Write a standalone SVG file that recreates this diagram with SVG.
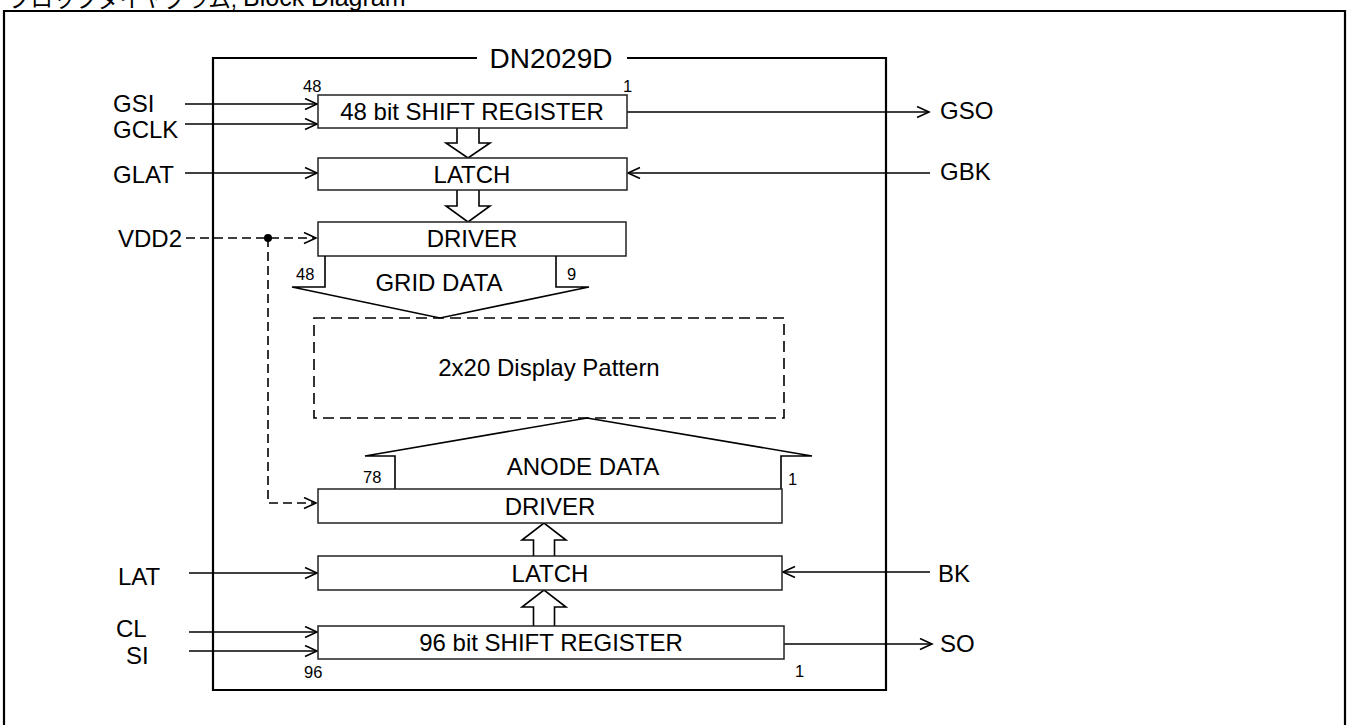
<svg xmlns="http://www.w3.org/2000/svg" width="1351" height="725" viewBox="0 0 1351 725">
<style>
.t{font-family:"Liberation Sans",Arial,"Noto Sans CJK JP",sans-serif;fill:#000}
.lbl{font-size:24px}
.num{font-size:16.5px}
.mid{text-anchor:middle}
.box{fill:#fff;stroke:#222;stroke-width:1.5}
.ln{fill:none;stroke:#000;stroke-width:1.6}
.dash{stroke-dasharray:9 5}
.frame{fill:none;stroke:#000;stroke-width:2.2}
.blk{fill:#fff;stroke:#000;stroke-width:1.6}
</style>
<defs>
<marker id="ah" markerUnits="userSpaceOnUse" viewBox="0 0 16 14" markerWidth="16" markerHeight="14" refX="13" refY="6" orient="auto">
<path d="M1,0.5 L13,6 L1,11.5" fill="none" stroke="#000" stroke-width="1.6"/>
</marker>
</defs>
<rect width="1351" height="725" fill="#fff"/>
<g id="title">
<text class="t" x="8" y="7" font-size="22.5px" font-family="'Noto Sans CJK JP',sans-serif">ブロックダイヤグラム,</text>
<text class="t" x="243" y="6" font-size="25px">Block Diagram</text>
</g>
<g id="outer-frame">
<path class="frame" d="M4,735 V11 H1345 V735" stroke-width="2.6"/>
</g>
<g id="chip">
<path class="frame" d="M477,58 H213 V690 H886 V58 H627"/>
<text class="t mid" x="551" y="68" font-size="28px">DN2029D</text>
</g>
<g id="connectors">
<path class="ln" d="M185,104 H317" marker-end="url(#ah)"/>
<path class="ln" d="M185,124 H317" marker-end="url(#ah)"/>
<path class="ln" d="M185,173 H317" marker-end="url(#ah)"/>
<path class="ln" d="M627,112 H929" marker-end="url(#ah)"/>
<path class="ln" d="M930,173 H628" marker-end="url(#ah)"/>
<path class="ln dash" d="M186,238 H316" marker-end="url(#ah)"/>
<path class="ln dash" d="M268,238 V503 H316" marker-end="url(#ah)"/>
<circle cx="268" cy="238" r="4" fill="#000"/>
<path class="ln" d="M189,573 H317" marker-end="url(#ah)"/>
<path class="ln" d="M930,572 H783" marker-end="url(#ah)"/>
<path class="ln" d="M189,632 H317" marker-end="url(#ah)"/>
<path class="ln" d="M189,651 H317" marker-end="url(#ah)"/>
<path class="ln" d="M784,644 H932" marker-end="url(#ah)"/>
<path class="blk" d="M457,128 V143 H446 L468,158 L490,143 H479 V128"/>
<path class="blk" d="M457,190 V206 H446 L468,222 L490,206 H479 V190"/>
<path class="blk" d="M533.5,556 V540 H522 L544,523 L566,540 H554.5 V556"/>
<path class="blk" d="M533.5,626 V607 H522 L544,590 L566,607 H554.5 V626"/>
</g>
<g id="pin-labels">
<text class="t lbl" x="113" y="112">GSI</text>
<text class="t lbl" x="113" y="138">GCLK</text>
<text class="t lbl" x="113" y="183">GLAT</text>
<text class="t lbl" x="118" y="247">VDD2</text>
<text class="t lbl" x="118" y="585">LAT</text>
<text class="t lbl" x="116" y="637">CL</text>
<text class="t lbl" x="126" y="664">SI</text>
<text class="t lbl" x="940" y="119">GSO</text>
<text class="t lbl" x="940" y="180">GBK</text>
<text class="t lbl" x="938" y="582">BK</text>
<text class="t lbl" x="940" y="652">SO</text>
</g>
<g id="sr48">
<rect class="box" x="318" y="95" width="309" height="33"/>
<text class="t lbl mid" x="472" y="120">48 bit SHIFT REGISTER</text>
<text class="t num" x="303" y="92">48</text>
<text class="t num" x="623" y="92">1</text>
</g>
<g id="latch48">
<rect class="box" x="318" y="158" width="309" height="32"/>
<text class="t lbl mid" x="472" y="183">LATCH</text>
</g>
<g id="driver48">
<rect class="box" x="318" y="222" width="308" height="34"/>
<text class="t lbl mid" x="472" y="247">DRIVER</text>
</g>
<g id="grid-data">
<path class="ln" d="M325,256 V287 H292 L440,318 L589,287 H556 V256"/>
<text class="t lbl mid" x="439" y="291">GRID DATA</text>
<text class="t num" x="296" y="280">48</text>
<text class="t num" x="567" y="280">9</text>
</g>
<g id="display">
<rect x="314" y="318" width="470" height="100" fill="none" stroke="#000" stroke-width="1.6" stroke-dasharray="11 6"/>
<text class="t lbl mid" x="549" y="376">2x20 Display Pattern</text>
</g>
<g id="anode-data">
<path class="ln" d="M395,489 V456 H365 L587,418 L812,456 H781 V489"/>
<text class="t lbl mid" x="583" y="475">ANODE DATA</text>
<text class="t num" x="363" y="483">78</text>
<text class="t num" x="788" y="485">1</text>
</g>
<g id="driver96">
<rect class="box" x="318" y="489" width="464" height="34"/>
<text class="t lbl mid" x="550" y="515">DRIVER</text>
</g>
<g id="latch96">
<rect class="box" x="318" y="556" width="464" height="34"/>
<text class="t lbl mid" x="550" y="582">LATCH</text>
</g>
<g id="sr96">
<rect class="box" x="318" y="626" width="466" height="33"/>
<text class="t lbl mid" x="551" y="651">96 bit SHIFT REGISTER</text>
<text class="t num" x="304" y="678">96</text>
<text class="t num" x="795" y="677">1</text>
</g>
</svg>
